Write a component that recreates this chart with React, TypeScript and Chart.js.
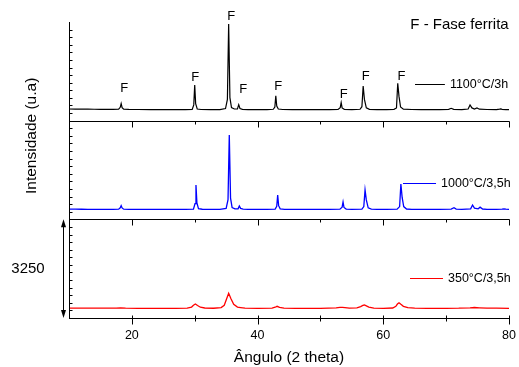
import { useEffect, useRef } from 'react';
import { Chart, registerables } from 'chart.js';

Chart.register(...registerables);

// ---- Data (2θ in degrees, intensity in counts within each panel) ----
const PANEL_SPAN = 3250;
const Y_MAX = 3 * PANEL_SPAN;

const angles1100 = [10, 11, 12, 13, 14, 15, 16, 17, 17.9, 18.15, 18.3, 18.45, 18.7, 19.5, 21, 23, 25, 27, 28.5, 29.6, 29.85, 30.0, 30.15, 30.4, 31, 32.5, 34, 34.9, 35.2, 35.4, 35.6, 35.85, 36.3, 36.8, 37.0, 37.2, 37.6, 38.5, 40, 41.5, 42.5, 42.75, 42.9, 43.05, 43.3, 44, 45.5, 47, 48.5, 50, 51.5, 52.8, 53.15, 53.3, 53.45, 53.8, 55, 56.3, 56.6, 56.8, 57.0, 57.3, 57.8, 59, 60.5, 61.7, 62.1, 62.3, 62.5, 62.75, 63.2, 64.5, 66, 67.5, 69, 70.4, 70.8, 71.2, 72.5, 73.5, 73.8, 74.1, 74.5, 74.9, 75.3, 76.5, 78, 78.5, 78.7, 78.9, 79.5, 80];
const counts1100 = [385, 382, 380, 378, 376, 374, 373, 372, 378, 440, 566, 430, 378, 370, 368, 365, 363, 362, 362, 372, 520, 1175, 560, 385, 368, 364, 366, 400, 700, 3184, 760, 430, 385, 385, 527, 400, 372, 366, 364, 364, 375, 450, 823, 480, 385, 368, 364, 362, 362, 362, 363, 372, 430, 593, 420, 375, 366, 375, 460, 1143, 700, 420, 375, 366, 364, 372, 420, 1231, 800, 450, 380, 368, 364, 363, 364, 372, 408, 372, 366, 385, 517, 420, 385, 418, 378, 368, 366, 378, 385, 372, 366, 365];

const angles1000 = [10, 11, 12, 13, 14, 15, 16, 17, 17.9, 18.15, 18.3, 18.45, 18.7, 19.5, 21, 23, 25, 27, 28.5, 29.8, 30.05, 30.2, 30.35, 30.6, 31.2, 32.5, 34, 35.0, 35.3, 35.5, 35.7, 35.95, 36.4, 36.9, 37.1, 37.3, 37.7, 38.5, 40, 41.5, 42.8, 43.05, 43.2, 43.35, 43.6, 44.3, 45.5, 47, 48.5, 50, 51.5, 53.1, 53.45, 53.6, 53.75, 54.1, 55, 56.6, 56.9, 57.1, 57.3, 57.6, 58.1, 59, 60.5, 62.2, 62.6, 62.8, 63.0, 63.25, 63.7, 64.5, 66, 67.5, 69, 70.8, 71.25, 71.6, 72.5, 73.9, 74.2, 74.5, 75.1, 75.4, 75.8, 76.5, 78, 78.9, 79.2, 79.5, 80];
const counts1000 = [335, 333, 332, 331, 330, 330, 329, 329, 335, 380, 448, 375, 335, 330, 329, 328, 328, 327, 328, 336, 520, 1129, 540, 350, 332, 329, 330, 360, 650, 2776, 700, 390, 345, 345, 438, 360, 334, 329, 328, 328, 338, 430, 800, 450, 345, 331, 328, 327, 327, 327, 328, 336, 400, 570, 390, 336, 329, 338, 420, 965, 640, 380, 336, 329, 328, 336, 420, 1162, 720, 420, 340, 331, 328, 328, 329, 336, 382, 338, 330, 345, 471, 370, 345, 400, 340, 331, 329, 336, 345, 333, 330];

const angles350 = [10, 12, 14, 16, 17.5, 18.2, 19, 21, 24, 27, 28.8, 29.5, 29.8, 30.1, 30.45, 30.9, 31.6, 33, 34.2, 34.7, 35.05, 35.4, 35.75, 36.2, 36.8, 37.3, 38, 40, 42.3, 42.8, 43.1, 43.5, 44.2, 46, 48, 50, 52.5, 53.1, 53.5, 53.9, 54.6, 55.8, 56.4, 56.75, 57.0, 57.3, 57.7, 58.5, 60, 61.5, 62.0, 62.25, 62.5, 62.8, 63.2, 63.9, 65, 67, 70, 72, 73.8, 74.5, 75.3, 76.5, 78, 80];
const counts350 = [325, 324, 322, 322, 326, 332, 324, 320, 318, 318, 325, 360, 420, 461, 410, 355, 330, 322, 345, 420, 620, 813, 640, 450, 360, 345, 325, 320, 325, 355, 385, 350, 326, 320, 318, 318, 332, 348, 352, 345, 328, 334, 375, 415, 428, 400, 360, 328, 320, 330, 385, 460, 503, 450, 385, 340, 325, 320, 320, 322, 335, 345, 336, 325, 322, 320];

const panelOffsets = [2 * PANEL_SPAN, PANEL_SPAN, 0];
const seriesAngles = [angles1100, angles1000, angles350];
const seriesCounts = [counts1100, counts1000, counts350];
const seriesNames = ['1100°C/3h', '1000°C/3,5h', '350°C/3,5h'];
const seriesColors = ['#000000', '#0000ff', '#ff0000'];
const seriesWidths = [1.2, 1.3, 1.3];

// legend placement (angles, counts within panel)
const legendLineStart = [65.05, 63.14, 64.25];
const legendLineEnd = [69.8, 68.39, 69.5];
const legendCount = [1208, 1205, 1317];

// "F" peak labels in top panel
const fLabelAngles = [18.8, 30.1, 35.8, 37.7, 43.3, 53.7, 57.2, 62.9];
const fLabelCounts = [1066, 1429, 3448, 1037, 1119, 869, 1449, 1472];

const xMajorTicks = [20, 40, 60, 80];
const xMinorTicks = [30, 50, 70];
const yMinorStep = 250;

const FONT = '"Liberation Sans", Arial, sans-serif';

const overlay = {
  id: 'overlay',
  afterDraw(chart: any) {
    const { ctx, chartArea: ca, scales } = chart;
    const X = (v: number) => scales.x.getPixelForValue(v);
    const Y = (v: number) => scales.y.getPixelForValue(v);
    const line = (x1: number, y1: number, x2: number, y2: number) => {
      ctx.beginPath();
      ctx.moveTo(x1, y1);
      ctx.lineTo(x2, y2);
      ctx.stroke();
    };
    ctx.save();
    ctx.strokeStyle = '#000';
    ctx.fillStyle = '#000';
    ctx.lineWidth = 1;

    // left axis
    const lx = Math.round(ca.left) + 0.5;
    line(lx, Y(Y_MAX), lx, Y(0) + 0.5);
    // y minor ticks (inward)
    for (let v = yMinorStep; v < Y_MAX; v += yMinorStep) {
      const y = Math.round(Y(v)) + 0.5;
      line(lx, y, lx + 3, y);
    }

    // horizontal panel axes with ticks
    panelOffsets.forEach((off) => {
      const y = Math.round(Y(off)) + 0.5;
      line(ca.left, y, Math.round(ca.right) + 0.5, y);
      const up = off === 0 ? 3 : 0;
      xMajorTicks.forEach((t) => {
        const x = Math.round(X(t)) + 0.5;
        line(x, y - up, x, y + 6);
      });
      xMinorTicks.forEach((t) => {
        const x = Math.round(X(t)) + 0.5;
        line(x, y - up, x, y + 3);
      });
    });

    // legends
    ctx.font = `12.5px ${FONT}`;
    ctx.textBaseline = 'middle';
    ctx.textAlign = 'left';
    seriesNames.forEach((name, i) => {
      const y = Math.round(Y(panelOffsets[i] + legendCount[i])) + 0.5;
      ctx.strokeStyle = seriesColors[i];
      ctx.lineWidth = 1;
      const x1 = X(legendLineStart[i]);
      const x2 = X(legendLineEnd[i]);
      line(x1, y, x2, y);
      ctx.fillStyle = '#000';
      ctx.fillText(name, x2 + 5, y);
    });

    // F labels
    ctx.font = `13px ${FONT}`;
    ctx.textAlign = 'center';
    fLabelAngles.forEach((a, i) => {
      ctx.fillText('F', X(a), Y(panelOffsets[0] + fLabelCounts[i]));
    });

    // phase note
    ctx.font = `15px ${FONT}`;
    ctx.textAlign = 'right';
    ctx.fillText('F - Fase ferrita', X(79.95), Y(panelOffsets[0] + 3151));

    // scale bar arrow
    ctx.strokeStyle = '#000';
    const ax = Math.round(ca.left - 6) + 0.5;
    const yTop = Y(PANEL_SPAN);
    const yBot = Y(0);
    line(ax, yTop + 4, ax, yBot - 4);
    ctx.beginPath();
    ctx.moveTo(ax, yTop);
    ctx.lineTo(ax - 2.5, yTop + 8);
    ctx.lineTo(ax + 2.5, yTop + 8);
    ctx.closePath();
    ctx.fill();
    ctx.beginPath();
    ctx.moveTo(ax, yBot);
    ctx.lineTo(ax - 2.5, yBot - 8);
    ctx.lineTo(ax + 2.5, yBot - 8);
    ctx.closePath();
    ctx.fill();

    ctx.font = `15px ${FONT}`;
    ctx.textAlign = 'center';
    ctx.fillText(String(PANEL_SPAN), ca.left - 41, Y(PANEL_SPAN / 2));

    // y title
    ctx.save();
    ctx.translate(ca.left - 37, Y(6000));
    ctx.rotate(-Math.PI / 2);
    ctx.font = `15.5px ${FONT}`;
    ctx.fillText('Intensidade (u.a)', 0, 0);
    ctx.restore();

    ctx.restore();
  },
};

export default function App() {
  const ref = useRef<HTMLCanvasElement>(null);
  useEffect(() => {
    if (!ref.current) return;
    const chart = new Chart(ref.current, {
      type: 'line',
      data: {
        datasets: seriesNames.map((name, i) => ({
          label: name,
          data: seriesAngles[i].map((a, j) => ({ x: a, y: seriesCounts[i][j] + panelOffsets[i] })),
          borderColor: seriesColors[i],
          borderWidth: seriesWidths[i],
          pointRadius: 0,
          tension: 0,
          fill: false,
        })),
      },
      options: {
        animation: false,
        responsive: false,
        devicePixelRatio: 1,
        layout: { padding: { left: 69, right: 10, top: 22, bottom: 0 } },
        plugins: { legend: { display: false }, tooltip: { enabled: false } },
        scales: {
          x: {
            type: 'linear',
            min: 10,
            max: 80,
            afterBuildTicks: (scale: any) => {
              scale.ticks = xMajorTicks.map((v) => ({ value: v }));
            },
            afterFit: (scale: any) => {
              scale.height = 49;
              scale.paddingLeft = 0;
              scale.paddingRight = 0;
            },
            grid: { display: false, drawTicks: false },
            border: { display: false },
            ticks: {
              color: '#000',
              font: { family: FONT, size: 12.5 },
              padding: 10,
              maxRotation: 0,
              autoSkip: false,
            },
            title: {
              display: true,
              text: 'Ângulo (2 theta)',
              color: '#000',
              font: { family: FONT, size: 15.5 },
              padding: { top: 0, bottom: 0 },
            },
          },
          y: {
            type: 'linear',
            min: 0,
            max: Y_MAX,
            display: false,
          },
        },
      },
      plugins: [overlay],
    });
    return () => chart.destroy();
  }, []);
  return (
    <div style={{ position: 'fixed', left: 0, top: 0, width: 519, height: 367, background: '#fff' }}>
      <canvas ref={ref} width={519} height={367} />
    </div>
  );
}
